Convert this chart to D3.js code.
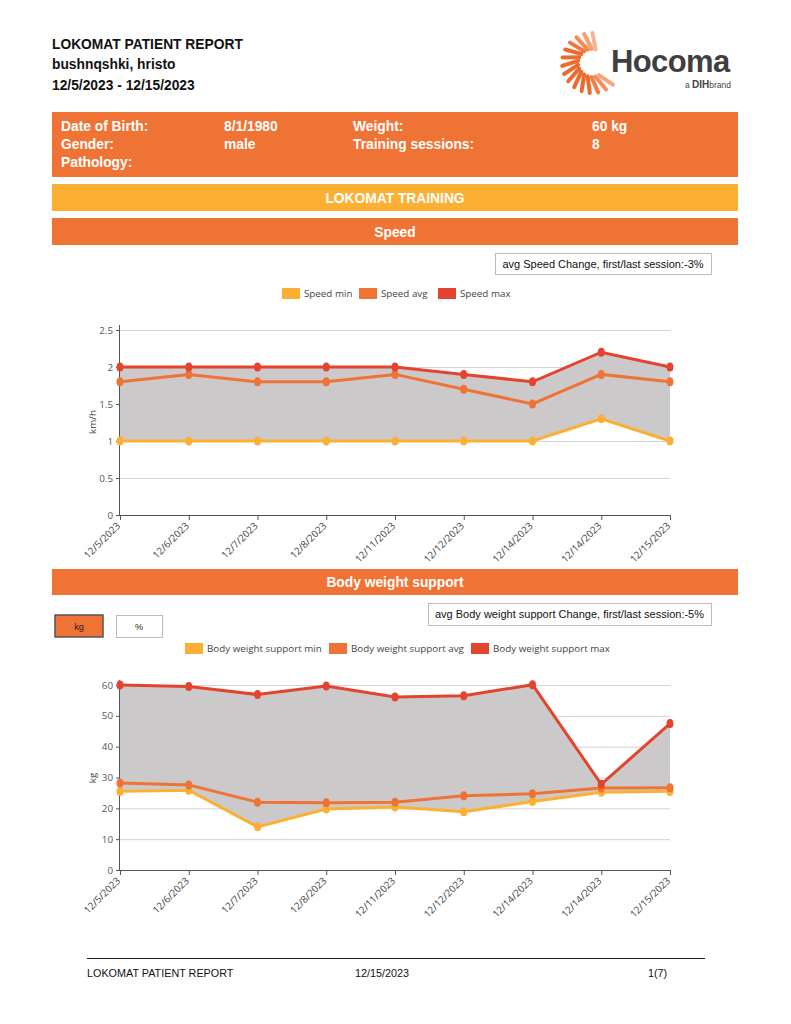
<!DOCTYPE html>
<html><head><meta charset="utf-8">
<script src="https://cdn.jsdelivr.net/npm/d3@7"></script>
<style>
body{margin:0;background:#fff;}
svg{display:block;}
</style></head>
<body>
<svg id="page" width="791" height="1024"></svg>
<script>
// ---------- data ----------
const sessions = ["12/5/2023","12/6/2023","12/7/2023","12/8/2023","12/11/2023","12/12/2023","12/14/2023","12/14/2023","12/15/2023"];
const speedMin = [1,1,1,1,1,1,1,1.3,1];
const speedAvg = [1.8,1.9,1.8,1.8,1.9,1.7,1.5,1.9,1.8];
const speedMax = [2,2,2,2,2,1.9,1.8,2.2,2];
const speedTicks = [0,0.5,1,1.5,2,2.5];
const bwsMin = [25.5,25.9,14,19.8,20.4,18.9,22.2,25.2,25.5];
const bwsAvg = [28.2,27.6,22,21.8,22,24.1,24.7,26.6,26.7];
const bwsMax = [60,59.5,56.9,59.7,56.1,56.5,60.1,27.8,47.5];
const bwsTicks = [0,10,20,30,40,50,60];
const infoRows = [["Date of Birth:","8/1/1980","Weight:","60 kg"],["Gender:","male","Training sessions:","8"],["Pathology:","","",""]];

const C_MIN="#fbb034", C_AVG="#f07336", C_MAX="#e3432f", C_FILL="#cbc9c9", C_ORANGE="#f07336", C_YEL="#fbb034";
const svg = d3.select("#page");
const FONT = "'Liberation Sans', Arial, sans-serif";
const CFONT = "'Open Sans', 'Noto Sans', sans-serif";

// ---------- header ----------
const hdr = svg.append("g").attr("font-family",FONT).attr("font-weight","bold").attr("font-size",13.8).attr("fill","#111");
hdr.append("text").attr("x",52).attr("y",49).text("LOKOMAT PATIENT REPORT");
hdr.append("text").attr("x",52).attr("y",69).text("bushnqshki, hristo");
hdr.append("text").attr("x",52).attr("y",90).text("12/5/2023 - 12/15/2023");

// logo (sunburst of petals + wordmark)
const logo = svg.append("g");
const cx=592, cy=63;
const nP=15;
for(let i=0;i<nP;i++){
  const deg = 75 + i*(225/(nP-1)); // from upper right, around left, to lower right
  const a1 = deg*Math.PI/180, a2 = (deg+14)*Math.PI/180;
  const r1=14, r2=30;
  const x1=cx+Math.cos(a1)*r1, y1=cy-Math.sin(a1)*r1;
  const x2=cx+Math.cos(a2)*r2, y2=cy-Math.sin(a2)*r2;
  const t = i/(nP-1);
  const col = d3.interpolateRgb("#fbc6a6","#ee6a2c")(Math.min(1, 0.2+Math.sin(t*Math.PI*0.95)*1.1));
  logo.append("line").attr("x1",x1).attr("y1",y1).attr("x2",x2).attr("y2",y2)
    .attr("stroke", col).attr("stroke-width",4).attr("stroke-linecap","round");
}
logo.append("text").attr("x",611).attr("y",72).attr("font-family",FONT).attr("font-weight","bold")
  .attr("font-size",31).attr("fill","#3f3f3f").attr("letter-spacing",-0.6).text("Hocoma");
const brand = logo.append("text").attr("x",731).attr("y",88).attr("text-anchor","end").attr("font-family",FONT).attr("font-size",8.5).attr("fill","#444");
brand.append("tspan").text("a ");
brand.append("tspan").attr("font-weight","bold").attr("font-size",10).text("DIH");
brand.append("tspan").text("brand");

// info box
svg.append("rect").attr("x",52).attr("y",112).attr("width",686).attr("height",65).attr("fill",C_ORANGE);
const colX=[61,224,353,592];
const info = svg.append("g").attr("font-family",FONT).attr("font-weight","bold").attr("font-size",13.8).attr("fill","#fff");
infoRows.forEach((row,ri)=>row.forEach((t,ci)=>{ if(t) info.append("text").attr("x",colX[ci]).attr("y",131+ri*18).text(t); }));

function band(y,h,color,label){
  svg.append("rect").attr("x",52).attr("y",y).attr("width",686).attr("height",h).attr("fill",color);
  svg.append("text").attr("x",395).attr("y",y+h/2+5).attr("text-anchor","middle").attr("font-family",FONT)
    .attr("font-weight","bold").attr("font-size",13.8).attr("fill","#fff").text(label);
}
band(184,27,C_YEL,"LOKOMAT TRAINING");
band(218,27,C_ORANGE,"Speed");
band(569,26,C_ORANGE,"Body weight support");

function box(x,y,w,h,label){
  svg.append("rect").attr("x",x+0.5).attr("y",y+0.5).attr("width",w).attr("height",h).attr("fill","#fff").attr("stroke","#bbb");
  svg.append("text").attr("x",x+w/2).attr("y",y+h/2+4).attr("text-anchor","middle").attr("font-family",FONT)
    .attr("font-size",11).attr("fill","#111").text(label);
}
box(495,253,216,21,"avg Speed Change, first/last session:-3%");
box(428,603,283,22,"avg Body weight support Change, first/last session:-5%");

// kg / % buttons
svg.append("rect").attr("x",55).attr("y",615).attr("width",48).attr("height",22).attr("fill",C_ORANGE).attr("stroke","#555").attr("stroke-width",1.5);
svg.append("text").attr("x",79).attr("y",630).attr("text-anchor","middle").attr("font-family",FONT).attr("font-size",9).attr("fill","#222").text("kg");
svg.append("rect").attr("x",116.5).attr("y",615.5).attr("width",46).attr("height",22).attr("fill","#fff").attr("stroke","#bbb");
svg.append("text").attr("x",139).attr("y",630).attr("text-anchor","middle").attr("font-family",FONT).attr("font-size",9).attr("fill","#222").text("%");

function legend(y, items){
  const g = svg.append("g").attr("font-family",CFONT).attr("font-size",9.8).attr("fill","#444");
  items.forEach(it=>{
    g.append("rect").attr("x",it.x).attr("y",y-5).attr("width",18).attr("height",11).attr("fill",it.c);
    g.append("text").attr("x",it.x+22).attr("y",y+4).text(it.t);
  });
}
legend(293,[{x:282,c:C_MIN,t:"Speed min"},{x:359,c:C_AVG,t:"Speed avg"},{x:438,c:C_MAX,t:"Speed max"}]);
legend(648,[{x:185,c:C_MIN,t:"Body weight support min"},{x:329,c:C_AVG,t:"Body weight support avg"},{x:471,c:C_MAX,t:"Body weight support max"}]);

function chart(top,bottom,ticks,mins,avgs,maxs,ylabel,labelY){
  const x = d3.scalePoint().domain(d3.range(sessions.length)).range([120,670]);
  const y = d3.scaleLinear().domain([ticks[0],ticks[ticks.length-1]]).range([bottom,top]);
  const g = svg.append("g");
  // grid
  g.selectAll("line.grid").data(ticks.slice(1)).join("line").attr("x1",120).attr("x2",670)
    .attr("y1",d=>y(d)+0.5).attr("y2",d=>y(d)+0.5).attr("stroke","#d4d4d4");
  // range area
  const idx = d3.range(sessions.length);
  g.append("path").datum(idx).attr("fill",C_FILL)
    .attr("d", d3.area().x(i=>x(i)).y0(i=>y(mins[i])).y1(i=>y(maxs[i])));
  // axes
  const ya = d3.axisLeft(y).tickValues(ticks).tickSize(4).tickFormat(d3.format("~g"));
  const yg = g.append("g").attr("transform","translate(120,0)").call(ya);
  yg.select(".domain").attr("stroke","#555").attr("d",`M-0.5,${top-5}V${bottom}`);
  yg.selectAll(".tick line").attr("stroke","#555");
  yg.selectAll("text").attr("font-family",CFONT).attr("font-size",9.8).attr("fill","#555");
  const xa = d3.axisBottom(x).tickSize(5).tickFormat(i=>sessions[i]);
  const xg = g.append("g").attr("transform",`translate(0,${bottom})`).call(xa);
  xg.select(".domain").attr("stroke","#555");
  xg.selectAll(".tick line").attr("stroke","#555");
  xg.selectAll("text").attr("font-family",CFONT).attr("font-size",9.8).attr("fill","#444")
    .attr("text-anchor","end").attr("y",0).attr("dy","0.35em").attr("transform","translate(-2,9) rotate(-45)");
  g.append("text").attr("transform",`translate(${96},${labelY}) rotate(-90)`).attr("text-anchor","middle")
    .attr("font-family",CFONT).attr("font-size",9.8).attr("fill","#444").text(ylabel);
  // lines
  [[mins,C_MIN],[avgs,C_AVG],[maxs,C_MAX]].forEach(([vals,c])=>{
    g.append("path").datum(idx).attr("fill","none").attr("stroke",c).attr("stroke-width",3)
      .attr("d",d3.line().x(i=>x(i)).y(i=>y(vals[i])));
    g.selectAll(null).data(idx).join("ellipse").attr("cx",i=>x(i)).attr("cy",i=>y(vals[i]))
      .attr("rx",3.5).attr("ry",4.5).attr("fill",c);
  });
}
chart(330,515,speedTicks,speedMin,speedAvg,speedMax,"km/h",422);
chart(685,870,bwsTicks,bwsMin,bwsAvg,bwsMax,"kg",778);

// footer
svg.append("line").attr("x1",87).attr("x2",705).attr("y1",958.5).attr("y2",958.5).attr("stroke","#222");
const ft = svg.append("g").attr("font-family",FONT).attr("font-size",10.8).attr("fill","#111");
ft.append("text").attr("x",87).attr("y",977).text("LOKOMAT PATIENT REPORT");
ft.append("text").attr("x",355).attr("y",977).text("12/15/2023");
ft.append("text").attr("x",648).attr("y",977).text("1(7)");
</script>
</body></html>
